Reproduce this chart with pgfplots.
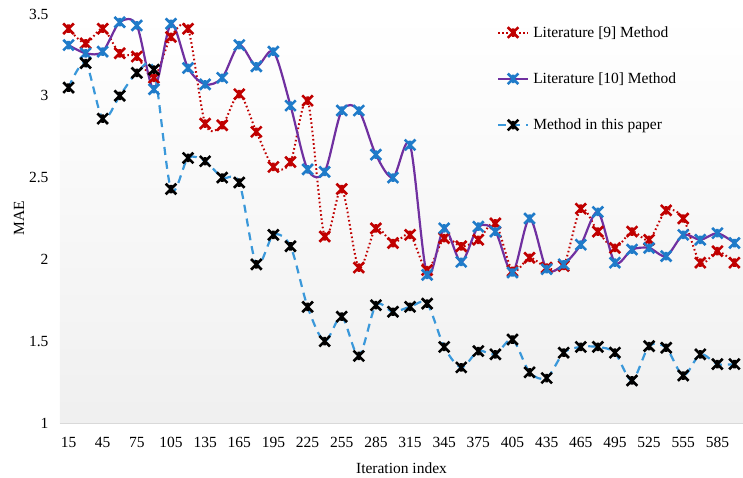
\documentclass[border=0pt]{standalone}
\usepackage{fontspec}
\setmainfont{Liberation Serif}
\usepackage{pgfplots}
\usepackage{pgfplotstable}
\pgfplotsset{compat=1.18}
\definecolor{cred}{HTML}{C00000}
\definecolor{cpurple}{HTML}{7030A0}
\definecolor{cblue}{HTML}{1F7BC9}
\definecolor{cdash}{HTML}{3A98DA}
\pgfdeclareplotmark{xstar}{%
 \pgfpathmoveto{\pgfqpoint{-\pgfplotmarksize}{-\pgfplotmarksize}}%
 \pgfpathlineto{\pgfqpoint{\pgfplotmarksize}{\pgfplotmarksize}}%
 \pgfpathmoveto{\pgfqpoint{-\pgfplotmarksize}{\pgfplotmarksize}}%
 \pgfpathlineto{\pgfqpoint{\pgfplotmarksize}{-\pgfplotmarksize}}%
 \pgfpathmoveto{\pgfqpoint{0pt}{-0.8\pgfplotmarksize}}%
 \pgfpathlineto{\pgfqpoint{0pt}{0.8\pgfplotmarksize}}%
 \pgfusepathqstroke}

\pgfplotstableread{
x y
15 3.41
30 3.32
45 3.41
60 3.26
75 3.24
90 3.11
105 3.36
120 3.41
135 2.83
150 2.82
165 3.01
180 2.78
195 2.565
210 2.595
225 2.97
240 2.14
255 2.43
270 1.95
285 2.19
300 2.10
315 2.15
330 1.935
345 2.13
360 2.08
375 2.12
390 2.22
405 1.93
420 2.01
435 1.95
450 1.96
465 2.31
480 2.17
495 2.07
510 2.17
525 2.12
540 2.30
555 2.25
570 1.98
585 2.05
600 1.98
}\litnine

\pgfplotstableread{
x y
15 3.31
30 3.26
45 3.27
60 3.45
75 3.43
90 3.04
105 3.44
120 3.17
135 3.07
150 3.11
165 3.31
180 3.18
195 3.27
210 2.94
225 2.55
240 2.535
255 2.91
270 2.91
285 2.64
300 2.50
315 2.70
330 1.905
345 2.19
360 1.985
375 2.20
390 2.17
405 1.92
420 2.25
435 1.94
450 1.97
465 2.09
480 2.29
495 1.98
510 2.06
525 2.07
540 2.02
555 2.15
570 2.12
585 2.16
600 2.10
}\litten

\pgfplotstableread{
x y
15 3.05
30 3.20
45 2.86
60 3.00
75 3.14
90 3.16
105 2.43
120 2.62
135 2.60
150 2.50
165 2.47
180 1.97
195 2.15
210 2.08
225 1.71
240 1.50
255 1.65
270 1.41
285 1.72
300 1.68
315 1.71
330 1.73
345 1.465
360 1.34
375 1.44
390 1.42
405 1.51
420 1.31
435 1.275
450 1.43
465 1.465
480 1.465
495 1.43
510 1.26
525 1.47
540 1.46
555 1.29
570 1.42
585 1.36
600 1.36
}\ours

\begin{document}
\begin{tikzpicture}
\useasboundingbox (-60pt,-54pt) rectangle (683pt,423pt);
\begin{axis}[
 scale only axis, width=683pt, height=409pt,
 xmin=7.5, xmax=607.5, ymin=1, ymax=3.5,
 xtick={15,45,...,585},
 ytick={1,1.5,2,2.5,3,3.5},
 axis x line=bottom, axis y line=left,
 x axis line style={draw=black!15, line width=1pt, -},
 y axis line style={draw=none},
 major tick length=0pt,
 /pgf/number format/assume math mode=true,
 tick label style={font=\fontsize{15.5}{18}\selectfont},
 label style={font=\fontsize{15.5}{18}\selectfont},
 xticklabel style={yshift=-11pt},
 yticklabel style={xshift=-8pt},
 xlabel={Iteration index},
 xlabel style={yshift=-8pt},
 ylabel={MAE},
 ylabel style={yshift=-2pt},
 axis background/.style={top color=white, bottom color=black!6},
 legend cell align=left,
 legend style={draw=none, fill=none, at={(0.635,0.98)}, anchor=north west,
   font=\fontsize{15.5}{18}\selectfont, row sep=30pt,
   /tikz/every odd column/.append style={column sep=2pt}},
 legend image code/.code={\draw[mark repeat=2,mark phase=2] plot coordinates {(0cm,0cm) (0.53cm,0cm) (1.06cm,0cm)};},
 every axis plot/.append style={smooth, tension=0.5, mark=xstar, mark size=5.3pt},
]
\addplot[cred, line width=2pt, dash pattern=on 1.6pt off 2.6pt,
  mark options={solid, cred, line width=2.6pt}] table {\litnine};
\addlegendentry{Literature [9] Method}
\addplot[cpurple, line width=2.2pt,
  mark options={solid, cblue, line width=2.6pt}] table {\litten};
\addlegendentry{Literature [10] Method}
\addplot[cdash, line width=2.2pt, dash pattern=on 8pt off 6pt,
  mark options={solid, black, line width=2.6pt}] table {\ours};
\addlegendentry{Method in this paper}
\end{axis}
\end{tikzpicture}
\end{document}
